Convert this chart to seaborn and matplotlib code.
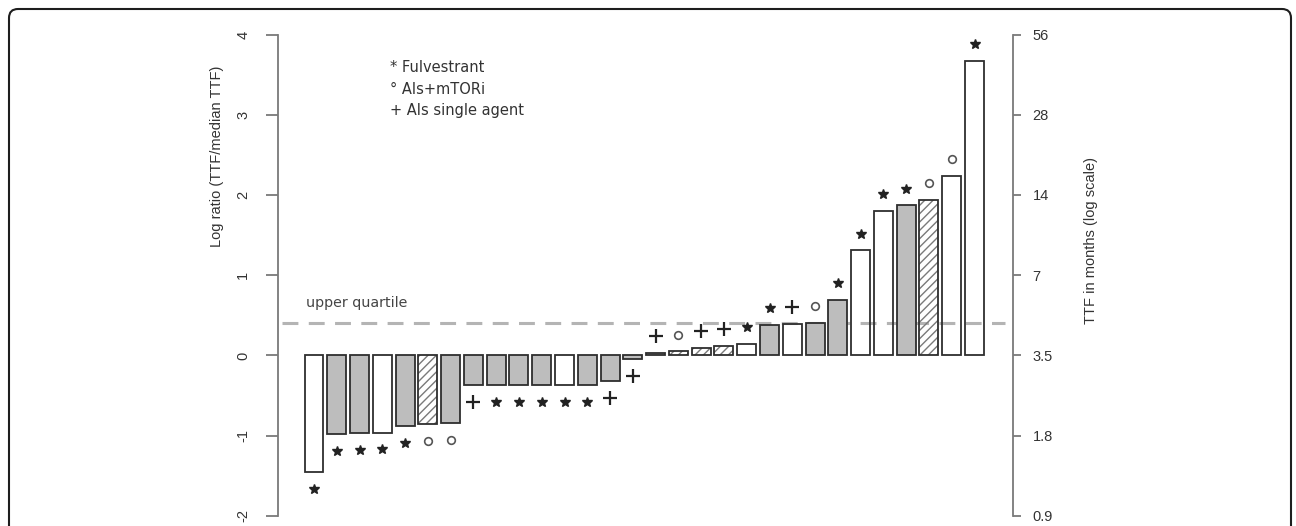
import matplotlib
matplotlib.use("Agg")
import matplotlib.pyplot as plt
from matplotlib.patches import FancyBboxPatch, Rectangle
import seaborn as sns
import pandas as pd
import numpy as np

# ---- data ----
log_ratio = [-1.45, -0.98, -0.97, -0.96, -0.88, -0.86, -0.84, -0.37, -0.37, -0.37,
             -0.37, -0.37, -0.37, -0.32, -0.05, 0.03, 0.05, 0.09, 0.12, 0.14,
             0.38, 0.39, 0.41, 0.69, 1.31, 1.80, 1.87, 1.94, 2.24, 3.67]
fill_kind = ["W", "G", "G", "W", "G", "H", "G", "G", "G", "G",
             "G", "W", "G", "G", "G", "G", "H", "H", "H", "W",
             "G", "W", "G", "G", "W", "W", "G", "H", "W", "W"]
treatment = ["*", "*", "*", "*", "*", "o", "o", "+", "*", "*",
             "*", "*", "*", "+", "+", "+", "o", "+", "+", "*",
             "*", "+", "o", "*", "*", "*", "*", "o", "o", "*"]
left_ticks = [-2, -1, 0, 1, 2, 3, 4]
right_tick_labels = ["0.9", "1.8", "3.5", "7", "14", "28", "56"]
upper_quartile = 0.40
legend_lines = ["* Fulvestrant", "\u00b0 AIs+mTORi", "+ AIs single agent"]

df = pd.DataFrame({"idx": np.arange(len(log_ratio)), "val": log_ratio})

W, H = 1296, 526
fig = plt.figure(figsize=(W / 100, H / 100), dpi=100)
sns.set_style("white")
plt.rcParams["font.family"] = ["Liberation Sans", "DejaVu Sans"]
plt.rcParams["hatch.linewidth"] = 1.0

ax = fig.add_axes([278 / W, 0, (1013 - 278) / W, 1])
ax.patch.set_alpha(0)

# dashed upper quartile line (behind bars)
ln = ax.hlines(upper_quartile, -1.40, 30.33, color="#b4b4b4", lw=2.2, zorder=1)
ln.set_linestyle((0, (5.2, 3.4)))

sns.barplot(data=df, x="idx", y="val", ax=ax, width=0.833, color="#bdbdbd",
            saturation=1, errorbar=None, zorder=2)

edge = "#2e2e2e"
for p, kind in zip(ax.patches, fill_kind):
    p.set_linewidth(1.3)
    p.set_zorder(2)
    if kind == "G":
        p.set_facecolor("#bdbdbd")
        p.set_edgecolor(edge)
    elif kind == "W":
        p.set_facecolor("none")
        p.set_edgecolor(edge)
    else:
        p.set_facecolor("none")
        p.set_edgecolor("#7a7a7a")
        p.set_hatch("////")
        p.set_linewidth(0)
        outline = Rectangle(p.get_xy(), p.get_width(), p.get_height(),
                            facecolor="none", edgecolor=edge, lw=1.3, zorder=3)
        ax.add_patch(outline)

# treatment markers
off = 0.21
for i, (v, t) in enumerate(zip(log_ratio, treatment)):
    y = v + off if v >= 0 else v - off
    if t == "*":
        ax.plot(i, y, marker="*", ms=7, color="#222222", mec="#222222", zorder=4)
    elif t == "o":
        ax.plot(i, y, marker="o", ms=5.5, mfc="none", mec="#555555", mew=1.2, zorder=4)
    else:
        ax.plot(i, y, marker="+", ms=10, mew=1.6, color="#222222", zorder=4)

ax.set_xlim(-1.58, 30.69)
ax.set_ylim(-2.125, 4.43)
ax.set_xlabel("")
ax.set_xticks([])

for s in ["top", "right", "bottom"]:
    ax.spines[s].set_visible(False)
ax.spines["left"].set_bounds(-2, 4)
ax.spines["left"].set_color("#7a7a7a")
ax.spines["left"].set_linewidth(1.3)
ax.set_yticks(left_ticks)
ax.set_yticklabels([str(t) for t in left_ticks], rotation=90, va="center")
ax.tick_params(axis="y", length=9, width=1.3, color="#7a7a7a", pad=11,
               labelsize=10.5, labelcolor="#333333", left=True)
ax.set_ylabel("Log ratio (TTF/median TTF)", fontsize=10.5, color="#333333")
ax.yaxis.set_label_coords(-0.0735, 0.703)

ax2 = ax.twinx()
ax2.set_ylim(ax.get_ylim())
for s in ["top", "left", "bottom"]:
    ax2.spines[s].set_visible(False)
ax2.spines["right"].set_bounds(-2, 4)
ax2.spines["right"].set_color("#7a7a7a")
ax2.spines["right"].set_linewidth(1.3)
ax2.set_yticks(left_ticks)
ax2.set_yticklabels(right_tick_labels)
ax2.tick_params(axis="y", length=6, width=1.3, color="#7a7a7a", pad=8,
                labelsize=10.5, labelcolor="#333333", right=True)
ax2.set_ylabel("TTF in months (log scale)", fontsize=10.5, color="#333333", rotation=90)
ax2.yaxis.set_label_coords(1.0966, 0.542)

# texts
ax.text(-0.35, 0.654, "upper quartile", fontsize=10.3, color="#444444",
        family=["DejaVu Sans"], ha="left", va="center")
for k, s in enumerate(legend_lines):
    fig.text(390 / W, 1 - (68 + 21.5 * k) / H, s, fontsize=10.5, color="#333333",
             family=["DejaVu Sans"], ha="left", va="center")

# rounded frame
frame = FancyBboxPatch((9 / 100, -0.3), (1291 - 9) / 100, (H - 9) / 100 + 0.3,
                       boxstyle="round,pad=0,rounding_size=0.09",
                       transform=fig.dpi_scale_trans, facecolor="none",
                       edgecolor="#1e1e1e", lw=1.5, zorder=10)
fig.patches.append(frame)

fig.savefig("out.png", dpi=100)
